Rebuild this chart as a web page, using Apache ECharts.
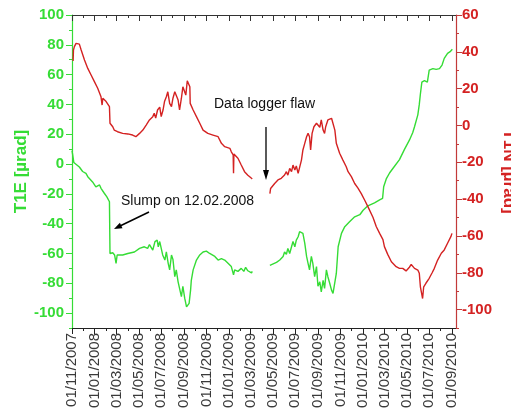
<!DOCTYPE html>
<html>
<head>
<meta charset="utf-8">
<script src="https://cdn.jsdelivr.net/npm/echarts@6/dist/echarts.min.js"></script>
<style>
  html, body { margin: 0; padding: 0; background: #fff; }
  #chart { width: 511px; height: 417px; }
</style>
</head>
<body>
<div id="chart"></div>
<script>
// Tiltmeter record, days counted from 01/11/2007
const startDate = Date.UTC(2007, 10, 1);
const dayMs = 86400000;

// Date tick labels along the bottom axis
const xTickLabels = [
  '01/11/2007', '01/01/2008', '01/03/2008', '01/05/2008', '01/07/2008', '01/09/2008',
  '01/11/2008', '01/01/2009', '01/03/2009', '01/05/2009', '01/07/2009', '01/09/2009',
  '01/11/2009', '01/01/2010', '01/03/2010', '01/05/2010', '01/07/2010', '01/09/2010'
];
const leftTicks = [-100, -80, -60, -40, -20, 0, 20, 40, 60, 80, 100];
const rightTicks = [-100, -80, -60, -40, -20, 0, 20, 40, 60];

// T1E [µrad] as [day, value], before and after the data logger gap
const t1eBefore = [
  [0, 9], [2, 6], [5, 1], [20, -2], [29, -5], [38, -6.3], [43, -8.5], [47, -7.4],
  [56, -12], [65, -15.3], [75, -14], [79, -16.3], [88, -19.6], [95, -22], [102, -25.3],
  [103, -26.4], [103.5, -60], [106, -61], [111, -59.5], [116, -61], [120, -66.6],
  [123, -61], [138, -61], [152, -60], [170, -59], [184, -56.6], [197, -55.5],
  [206, -56.6], [211, -54], [220, -57.7], [226, -52], [232, -51], [235, -55.5],
  [239, -52], [247, -61], [253, -64.4], [257, -59], [262, -66.6], [266, -71],
  [271, -61], [275, -64], [280, -75.6], [284, -71], [289, -79], [298, -89],
  [302, -82], [307, -90], [312, -95.8], [316, -97], [319, -93.5], [323, -84.6],
  [325, -78], [330, -71], [339, -64.4], [348, -61], [357, -59], [366, -58.4],
  [375, -60], [389, -62], [398, -64.4], [407, -63.4], [416, -64.4], [425, -66.6],
  [434, -68.8], [440, -74.4], [443, -71], [452, -72], [461, -70], [468, -72],
  [473, -69.3], [479, -71.6], [489, -73], [491, -72]
];
const t1eAfter = [
  [539, -68], [548, -67], [557, -66], [566, -64.4], [575, -62], [579, -59],
  [584, -60.6], [588, -56.6], [593, -60], [598, -55.5], [602, -52], [607, -55.5],
  [611, -51], [616, -48.8], [620, -45.4], [625, -44.3], [629, -46.5], [634, -53],
  [639, -62], [643, -66.6], [647, -71], [652, -62], [656, -66.6], [661, -75.6],
  [666, -68.8], [670, -82], [675, -79], [679, -85.7], [684, -78], [688, -83.4],
  [693, -71], [697, -75.6], [702, -80], [707, -84.6], [711, -86.8], [716, -88],
  [720, -73.4], [725, -55.5], [734, -46.5], [743, -42], [756, -38.7], [770, -35.4],
  [784, -34], [793, -31], [806, -28], [824, -26], [838, -24], [846, -23],
  [849, -15.2], [856, -10], [865, -6], [874, -3], [892, 3], [906, 10], [919, 16],
  [928, 21], [933, 25], [942, 33], [946, 40], [949, 47], [953, 55], [960, 56],
  [968, 55], [973, 63], [983, 64], [992, 63.5], [1001, 64], [1008, 66.4],
  [1014, 70.9], [1023, 74.3], [1030, 75.4], [1036, 77]
];

// T1N [µrad] as [day, value]
const t1nBefore = [
  [3, 35], [4, 41], [6.5, 42.8], [11, 44.6], [20, 44.2], [25, 41], [34, 35.6],
  [43, 31], [52, 27.4], [61, 23.8], [70, 20.2], [79, 15.6], [82, 11.1], [84, 14.8],
  [93, 13], [102, 10.2], [103, 9.8], [103.5, 1.2], [111, -0.7], [115, -2.5],
  [124, -3.4], [138, -4.3], [152, -4.6], [165, -5.2], [174, -6.1], [184, -4.3],
  [193, -2.5], [202, 0.2], [211, 3], [220, 4.8], [224, 6.6], [228, 4], [233, 8.4],
  [239, 10], [243, 4.8], [248, 8.4], [252, 13], [257, 15.6], [261, 18.3], [266, 12],
  [271, 10.2], [275, 14.8], [280, 18.3], [284, 19.3], [289, 13.8], [293, 8.4],
  [298, 14.8], [302, 21], [310, 16.5], [314, 24.3], [319, 25], [321, 21], [322, 12],
  [330, 8.4], [339, 4.8], [348, 1.2], [357, -2.5], [370, -4.3], [384, -5.2],
  [398, -6.1], [407, -9.7], [416, -11.5], [430, -12.4], [434, -14.3], [439, -16],
  [440, -26], [441, -15.5], [446, -15.1], [452, -17.8], [461, -21.5], [470, -25.1],
  [479, -27], [489, -28.7], [491, -29]
];
const t1nAfter = [
  [539, -37], [541, -34.2], [552, -31.5], [561, -29.6], [570, -28.7], [579, -26.9],
  [584, -25.1], [588, -27], [593, -23.3], [598, -25.1], [602, -21.5], [607, -24.2],
  [611, -22], [616, -26], [620, -25.1], [625, -18.8], [629, -13.3], [634, -9.7],
  [639, -6.1], [643, -4.3], [647, -6.1], [650, -13.3], [654, -4.3], [659, -0.7],
  [666, 1.2], [670, 2], [675, -1], [679, 3], [684, -2.5], [688, -4.3], [691, -0.7],
  [697, 3], [707, 3.9], [711, 3], [716, -2.5], [720, -9.7], [729, -15.1],
  [738, -18.8], [747, -22.4], [752, -25.1], [761, -27.8], [770, -31.5], [779, -34],
  [788, -37], [797, -40.5], [806, -44.1], [820, -50], [829, -55], [838, -58.6],
  [847, -62], [851, -65.8], [860, -70], [870, -74], [883, -76.7], [892, -77.6],
  [901, -77.6], [910, -79], [919, -77], [924, -75.5], [928, -75], [933, -77.6],
  [942, -78.5], [946, -80.3], [949, -87.6], [955, -94], [958, -87.6], [964, -85.7],
  [973, -83], [981, -80], [987, -77.6], [996, -73.1], [1006, -69.4], [1014, -67.6],
  [1023, -64], [1032, -60.4], [1035, -58.6]
];

const green = '#35dc35';
const red = '#d42222';
const redAxis = '#c23a3a';

function parseLabel(s) {
  const p = s.split('/');
  return Date.UTC(+p[2], +p[1] - 1, +p[0]);
}
const majorX = xTickLabels.map(parseLabel);
// month ticks in between the labelled ones
const minorX = majorX.slice(0, -1).map(t => {
  const d = new Date(t);
  return Date.UTC(d.getUTCFullYear(), d.getUTCMonth() + 1, 1);
});
const xMin = startDate;
const xMax = Date.UTC(2010, 8, 12);

function toSeries(before, after) {
  const pts = before.map(p => [startDate + p[0] * dayMs, p[1]]);
  pts.push([startDate + 515 * dayMs, null]);
  return pts.concat(after.map(p => [startDate + p[0] * dayMs, p[1]]));
}
function pad(n) { return (n < 10 ? '0' : '') + n; }
function fmtDate(v) {
  const d = new Date(v);
  return pad(d.getUTCDate()) + '/' + pad(d.getUTCMonth() + 1) + '/' + d.getUTCFullYear();
}
function oddTens(min, max) {
  const out = [];
  for (let v = min; v <= max; v += 20) out.push(v);
  return out;
}

// x positions are plain UTC timestamps on a value axis
const baseX = { type: 'value', min: xMin, max: xMax, splitLine: { show: false } };
const baseY = { type: 'value', splitLine: { show: false } };

const chart = echarts.init(document.getElementById('chart'), null, { renderer: 'canvas' });
chart.setOption({
  animation: false,
  backgroundColor: '#ffffff',
  grid: { left: 72, right: 55, top: 15, bottom: 89, containLabel: false, outerBoundsMode: 'none' },
  xAxis: [
    Object.assign({}, baseX, {
      position: 'bottom',
      axisLine: { show: true, onZero: false, lineStyle: { color: '#222', width: 1 } },
      axisTick: { show: true, inside: false, length: 6, customValues: majorX, lineStyle: { color: '#222' } },
      axisLabel: {
        show: true, customValues: majorX, rotate: 90, margin: 5,
        formatter: fmtDate, color: '#3a3a3a',
        fontFamily: 'Liberation Sans', fontSize: 15
      }
    }),
    Object.assign({}, baseX, {
      position: 'bottom',
      axisLine: { show: false, onZero: false },
      axisTick: { show: true, inside: false, length: 3, customValues: minorX, lineStyle: { color: '#222' } },
      axisLabel: { show: false }
    }),
    Object.assign({}, baseX, {
      position: 'top',
      axisLine: { show: true, onZero: false, lineStyle: { color: '#333', width: 1 } },
      axisTick: { show: true, inside: true, length: 6, customValues: majorX, lineStyle: { color: '#333' } },
      axisLabel: { show: false }
    }),
    Object.assign({}, baseX, {
      position: 'top',
      axisLine: { show: false, onZero: false },
      axisTick: { show: true, inside: true, length: 3, customValues: minorX, lineStyle: { color: '#333' } },
      axisLabel: { show: false }
    })
  ],
  yAxis: [
    Object.assign({}, baseY, {
      position: 'left', min: -110, max: 100,
      name: 'T1E [µrad]', nameLocation: 'middle', nameRotate: 90, nameGap: 42,
      nameMoveOverlap: false,
      nameTextStyle: { color: green, fontWeight: 'bold', fontSize: 17, fontFamily: 'Liberation Sans' },
      axisLine: { show: true, onZero: false, lineStyle: { color: green, width: 1.2 } },
      axisTick: { show: true, length: 6, customValues: leftTicks, lineStyle: { color: green } },
      axisLabel: {
        customValues: leftTicks, margin: 8, color: green, fontWeight: 'bold',
        fontSize: 15, fontFamily: 'Liberation Sans'
      }
    }),
    Object.assign({}, baseY, {
      position: 'right', min: -110, max: 60,
      name: 'T1N [µrad]', nameLocation: 'middle', nameRotate: -90, nameGap: 44,
      nameMoveOverlap: false,
      nameTextStyle: { color: red, fontWeight: 'bold', fontSize: 17, fontFamily: 'Liberation Sans' },
      axisLine: { show: true, onZero: false, lineStyle: { color: redAxis, width: 1.2 } },
      axisTick: { show: true, length: 6, customValues: rightTicks, lineStyle: { color: redAxis } },
      axisLabel: {
        customValues: rightTicks, margin: 6, color: red, fontWeight: 'bold',
        fontSize: 15, fontFamily: 'Liberation Sans'
      }
    }),
    Object.assign({}, baseY, {
      position: 'left', min: -110, max: 100,
      axisLine: { show: false, onZero: false },
      axisTick: { show: true, length: 3, customValues: oddTens(-110, 90), lineStyle: { color: green } },
      axisLabel: { show: false }
    }),
    Object.assign({}, baseY, {
      position: 'right', min: -110, max: 60,
      axisLine: { show: false, onZero: false },
      axisTick: { show: true, length: 3, customValues: oddTens(-110, 50), lineStyle: { color: redAxis } },
      axisLabel: { show: false }
    })
  ],
  series: [
    {
      name: 'T1E', type: 'line', xAxisIndex: 0, yAxisIndex: 0,
      data: toSeries(t1eBefore, t1eAfter), showSymbol: false, connectNulls: false,
      lineStyle: { color: green, width: 1.4 }, itemStyle: { color: green }
    },
    {
      name: 'T1N', type: 'line', xAxisIndex: 0, yAxisIndex: 1,
      data: toSeries(t1nBefore, t1nAfter), showSymbol: false, connectNulls: false,
      lineStyle: { color: red, width: 1.4 }, itemStyle: { color: red }
    }
  ],
  graphic: [
    {
      type: 'text', z: 10,
      style: { text: 'Data logger flaw', x: 214, y: 104, verticalAlign: 'middle',
               font: '14px "Liberation Sans"', fill: '#111' }
    },
    {
      type: 'text', z: 10,
      style: { text: 'Slump on 12.02.2008', x: 121, y: 201, verticalAlign: 'middle',
               font: '14px "Liberation Sans"', fill: '#111' }
    },
    { type: 'line', z: 10, shape: { x1: 266, y1: 127, x2: 266, y2: 172 },
      style: { stroke: '#000', lineWidth: 1.3 } },
    { type: 'polygon', z: 10, shape: { points: [[263, 170], [269, 170], [266, 180]] },
      style: { fill: '#000' } },
    { type: 'line', z: 10, shape: { x1: 149, y1: 212, x2: 120, y2: 226 },
      style: { stroke: '#000', lineWidth: 1.5 } },
    { type: 'polygon', z: 10, shape: { points: [[114, 229], [122.5, 228.2], [119.9, 222.8]] },
      style: { fill: '#000' } }
  ]
});
</script>
</body>
</html>
